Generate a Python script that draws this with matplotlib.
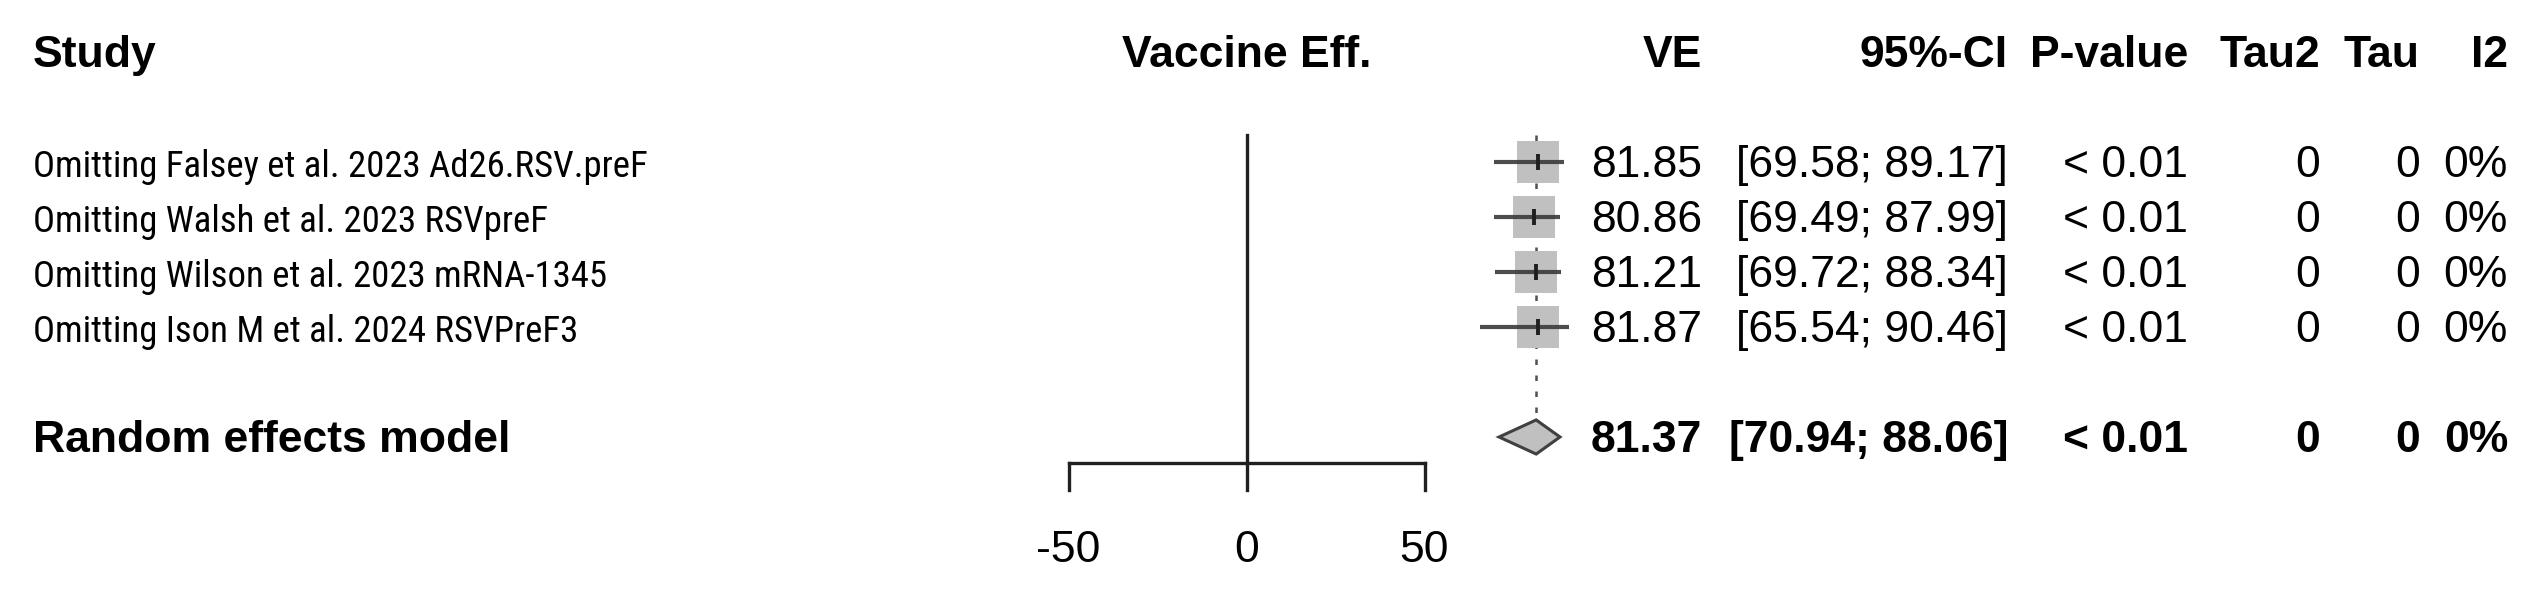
import matplotlib
matplotlib.use('Agg')
import matplotlib.pyplot as plt
from matplotlib import font_manager
from matplotlib.patches import Rectangle, Polygon

plt.rcParams['font.family'] = ['Liberation Sans', 'DejaVu Sans']

# Data ====================================================
studies = ['Omitting Falsey et al. 2023 Ad26.RSV.preF',
           'Omitting Walsh et al. 2023 RSVpreF',
           'Omitting Wilson et al. 2023 mRNA-1345',
           'Omitting Ison M et al. 2024 RSVPreF3']
ve = [81.85, 80.86, 81.21, 81.87]
lower = [69.58, 69.49, 69.72, 65.54]
upper = [89.17, 87.99, 88.34, 90.46]
pvals = ['< 0.01', '< 0.01', '< 0.01', '< 0.01']
tau2 = ['0', '0', '0', '0']
tau = ['0', '0', '0', '0']
i2 = ['0%', '0%', '0%', '0%']

summary_label = 'Random effects model'
summary_ve = 81.37
summary_lower = 70.94
summary_upper = 88.06
summary_p = '< 0.01'
summary_tau2 = '0'
summary_tau = '0'
summary_i2 = '0%'

headers = ['VE', '95%-CI', 'P-value', 'Tau2', 'Tau', 'I2']
xticks = [-50, 0, 50]
#==========================================================

# Layout helpers: pixel -> data units
X0 = 1246.5   # pixel position of 0
XS = 3.56     # pixels per unit
Y0 = 52       # pixel row of header
YS = 55       # pixels per row


def px(p):
    return (p - X0) / XS


FS = 32
BASE = 0.28  # baseline offset (rows) so text is centred on row

# study labels in the reference are set in a narrow face
installed = {f.name for f in font_manager.fontManager.ttflist}
narrow = None
for cand in ['Liberation Sans Narrow', 'Arial Narrow', 'Roboto Condensed',
             'Open Sans Condensed', 'Nimbus Sans Narrow']:
    if cand in installed:
        narrow = cand
        break
if narrow is None:
    label_font = ['Liberation Sans', 'DejaVu Sans']
    label_fs = 23
else:
    label_font = [narrow, 'Liberation Sans']
    label_fs = 26.5

fig = plt.figure(figsize=(25.28, 5.90), dpi=100)
ax = fig.add_axes([0, 0, 1, 1])
ax.set_xlim(px(0), px(2528))
ax.set_ylim((590 - Y0) / YS, (0 - Y0) / YS)
ax.axis('off')

# Header row
ax.text(px(33), 0 + BASE, 'Study', fontsize=FS, fontweight='bold', ha='left', va='baseline')
ax.text(0, 0 + BASE, 'Vaccine Eff.', fontsize=FS, fontweight='bold', ha='center', va='baseline')
col_right = [1702, 2008, 2188, 2320, 2420, 2508]
for h, c in zip(headers, col_right):
    ax.text(px(c), 0 + BASE, h, fontsize=FS, fontweight='bold', ha='right', va='baseline')

# Reference line at 0 and dotted line at summary
ax.plot([0, 0], [1.5, 7.47], color='#202020', lw=2.4, zorder=1)
ax.plot([summary_ve, summary_ve], [1.5, 6.68], color='#505050', lw=1.8,
        linestyle=(0, (2.2, 4.2)), zorder=1)

# Studies
sq_w = 11.8
sq_h = 0.76
for i, name in enumerate(studies):
    row = 2 + i
    ax.add_patch(Rectangle((ve[i] - sq_w / 2, row - sq_h / 2), sq_w, sq_h,
                           facecolor='#c0c0c0', edgecolor='none', zorder=2))
    ax.plot([lower[i], upper[i]], [row, row], color='#3a3a3a', lw=3.0,
            alpha=0.9, zorder=3, solid_capstyle='butt')
    ax.plot([ve[i], ve[i]], [row - 0.14, row + 0.14], color='#202020', lw=2.8,
            zorder=3, solid_capstyle='butt')
    vals = [f'{ve[i]:.2f}', f'[{lower[i]:.2f}; {upper[i]:.2f}]', pvals[i], tau2[i], tau[i], i2[i]]
    ax.text(px(33), row + BASE, name, fontsize=label_fs, family=label_font,
            ha='left', va='baseline')
    for v, c in zip(vals, col_right):
        ax.text(px(c), row + BASE, v, fontsize=FS, ha='right', va='baseline')

# Summary diamond
srow = 7
ax.add_patch(Polygon([(summary_lower, srow), (summary_ve, srow - 0.31),
                      (summary_upper, srow), (summary_ve, srow + 0.31)],
                     closed=True, facecolor='#c0c0c0', edgecolor='#404040', lw=2.2, zorder=3))
ax.text(px(33), srow + BASE, summary_label, fontsize=FS, fontweight='bold', ha='left', va='baseline')
svals = [f'{summary_ve:.2f}', f'[{summary_lower:.2f}; {summary_upper:.2f}]',
         summary_p, summary_tau2, summary_tau, summary_i2]
for v, c in zip(svals, col_right):
    ax.text(px(c), srow + BASE, v, fontsize=FS, fontweight='bold', ha='right', va='baseline')

# x axis
ax_y = 7.47
ax.plot([xticks[0], xticks[-1]], [ax_y, ax_y], color='#202020', lw=2.4,
        solid_capstyle='projecting')
for t in xticks:
    ax.plot([t, t], [ax_y, 7.96], color='#202020', lw=2.4)
    ax.text(t, 9.0 + BASE, str(t), fontsize=FS, ha='center', va='baseline')

fig.savefig('out.png', dpi=100)
